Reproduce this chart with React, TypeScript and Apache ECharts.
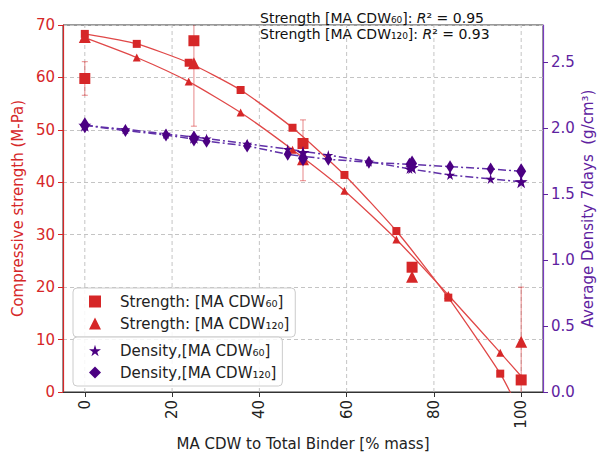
import React, { useEffect, useRef } from "react";
import * as echarts from "echarts";

// ---------- data ----------
const xTickValues = [0, 20, 40, 60, 80, 100];
const rightTickValues = [0, 0.5, 1.0, 1.5, 2.0, 2.5];

// fitted strength curves (markers every ~11.9 %)
const fitX = [0, 11.9, 23.8, 35.7, 47.6, 59.5, 71.4, 83.3, 95.2, 100];
const fit60 = [68.3, 66.4, 62.8, 57.6, 50.4, 41.4, 30.7, 18.0, 3.5, -4.2];
const fit120 = [67.6, 63.8, 59.2, 53.3, 46.2, 38.4, 29.1, 18.5, 7.5, 3.0];

// measured strength
const expX = [0, 25, 50, 75, 100];
const exp60 = [59.8, 67.0, 47.4, 23.8, 2.3];
const exp120 = [67.7, 62.7, 44.4, 22.0, 9.6];

// error bars: x, low, high
const errX = [0, 25, 50, 100];
const errLow = [56.6, 50.7, 40.3, -0.8];
const errHigh = [63.0, 83.3, 51.9, 20.0];

// fitted density curves (markers every ~9.3 %)
const densX = [0, 9.3, 18.6, 27.9, 37.2, 46.5, 55.8, 65.1, 74.4, 83.7, 93, 100];
const dens60 = [2.02, 1.99, 1.955, 1.92, 1.88, 1.84, 1.795, 1.745, 1.69, 1.644, 1.614, 1.593];
const dens120 = [2.02, 1.98, 1.947, 1.9, 1.864, 1.8, 1.763, 1.74, 1.725, 1.707, 1.689, 1.672];

// measured density
const expDens60 = [2.02, 1.93, 1.815, 1.7, 1.593];
const expDens120 = [2.02, 1.92, 1.77, 1.73, 1.672];

const names = {
  s60: "Strength: [MA CDW₆₀]",
  s120: "Strength: [MA CDW₁₂₀]",
  d60: "Density,[MA CDW₆₀]",
  d120: "Density,[MA CDW₁₂₀]",
};

const RED = "#d62728";
const RED_LINE = "#e04848";
const PURPLE = "#4b0082";
const PURPLE_AXIS = "#5e22a0";
const FONT = "DejaVu Sans";
const STAR =
  "path://M50,0 L61,35 L98,35 L68,57 L79,91 L50,70 L21,91 L32,57 L2,35 L39,35 Z";

function zip(xs: number[], ys: number[]) {
  return xs.map((x, i) => [x, ys[i]]);
}

export default function App() {
  const ref = useRef<HTMLDivElement>(null);

  useEffect(() => {
    if (!ref.current) return;
    const chart = echarts.init(ref.current, null, { renderer: "svg" });

    const fitData = (ys: number[]) =>
      fitX.map((x, i) =>
        i === fitX.length - 1 ? { value: [x, ys[i]], symbol: "none" } : { value: [x, ys[i]] }
      );

    const legendCommon = {
      orient: "vertical",
      left: 73,
      padding: [6, 6, 6, 16],
      itemGap: 7,
      itemWidth: 12,
      itemHeight: 12,
      backgroundColor: "rgba(255,255,255,0.85)",
      borderColor: "#cccccc",
      borderWidth: 1,
      borderRadius: 4,
      textStyle: { fontSize: 15, color: "#222", fontFamily: FONT, padding: [0, 0, 0, 14] },
    };

    const option: any = {
      animation: false,
      backgroundColor: "#fff",
      textStyle: { fontFamily: FONT },
      grid: {
        left: 63,
        right: 55,
        top: 25,
        bottom: 60,
        outerBoundsMode: "none",
        containLabel: false,
        show: true,
        borderColor: "#333",
        borderWidth: 1,
        backgroundColor: "transparent",
      },
      xAxis: {
        type: "value",
        min: -5,
        max: 105,
        name: "MA CDW to Total Binder [% mass]",
        nameLocation: "middle",
        nameGap: 38,
        nameTextStyle: { fontSize: 15, color: "#222", fontFamily: FONT },
        axisLine: { show: true, onZero: false, lineStyle: { color: "#333", width: 1 } },
        axisTick: { show: true, length: 5, customValues: xTickValues, lineStyle: { color: "#333" } },
        axisLabel: {
          customValues: xTickValues,
          rotate: 90,
          fontSize: 15,
          color: "#222",
          margin: 8,
          fontFamily: FONT,
        },
        splitLine: { show: false },
      },
      yAxis: [
        {
          type: "value",
          min: 0,
          max: 70,
          interval: 10,
          position: "left",
          name: "Compressive strength (M-Pa)",
          nameLocation: "middle",
          nameGap: 38,
          nameRotate: 90,
          nameTextStyle: { fontSize: 15, color: RED, fontFamily: FONT },
          axisLine: { show: true, onZero: false, lineStyle: { color: RED, width: 1.2 } },
          axisTick: { show: true, length: 5, lineStyle: { color: RED } },
          axisLabel: { fontSize: 15, color: RED, margin: 8, fontFamily: FONT },
          splitLine: { show: true, lineStyle: { color: "#c4c4c4", type: [4, 3], width: 1 } },
        },
        {
          type: "value",
          min: 0,
          max: 2.78,
          position: "right",
          name: "Average Density 7days  (g/cm³)",
          nameLocation: "middle",
          nameGap: 37,
          nameMoveOverlap: false,
          nameRotate: 90,
          nameTextStyle: { fontSize: 15, color: PURPLE_AXIS, fontFamily: FONT },
          axisLine: { show: true, onZero: false, lineStyle: { color: "#7a3cc0", width: 1.2 } },
          axisTick: { show: true, length: 5, customValues: rightTickValues, lineStyle: { color: PURPLE_AXIS } },
          axisLabel: {
            customValues: rightTickValues,
            fontSize: 15,
            color: PURPLE_AXIS,
            margin: 8,
            fontFamily: FONT,
            formatter: (v: number) => v.toFixed(1),
          },
          splitLine: { show: false },
        },
      ],
      legend: [
        {
          ...legendCommon,
          top: 288,
          data: [
            { name: names.s60, icon: "rect" },
            { name: names.s120, icon: "triangle" },
          ],
        },
        {
          ...legendCommon,
          top: 337,
          data: [
            { name: names.d60, icon: STAR },
            { name: names.d120, icon: "diamond" },
          ],
        },
      ],
      graphic: [
        {
          type: "text",
          left: 260,
          top: 10,
          z: 100,
          style: {
            text:
              "{n|Strength [MA CDW₆₀]: }{i|R}{n|² = 0.95}\n{n|Strength [MA CDW₁₂₀]: }{i|R}{n|² = 0.93}",
            fill: "#111",
            font: `14px "${FONT}"`,
            lineHeight: 16,
            rich: {
              n: { fontSize: 14, fontFamily: FONT, fill: "#111", lineHeight: 16 },
              i: { fontSize: 14, fontFamily: FONT, fontStyle: "italic", fill: "#111", lineHeight: 16 },
            },
          },
        },
      ],
      series: [
        {
          name: "xgrid",
          type: "custom",
          xAxisIndex: 0,
          yAxisIndex: 0,
          clip: true,
          z: 0,
          silent: true,
          data: xTickValues.map((v) => [v, 0]),
          renderItem: (params: any, api: any) => {
            const x = api.value(0);
            const p1 = api.coord([x, 0]);
            const p2 = api.coord([x, 70]);
            return {
              type: "line",
              shape: { x1: p1[0], y1: p1[1], x2: p2[0], y2: p2[1] },
              style: { stroke: "#c4c4c4", lineWidth: 1, lineDash: [4, 3] },
            };
          },
        },
        {
          name: "errbars",
          type: "custom",
          xAxisIndex: 0,
          yAxisIndex: 0,
          clip: true,
          z: 1,
          silent: true,
          data: errX.map((x, i) => [x, errLow[i], errHigh[i]]),
          renderItem: (params: any, api: any) => {
            const x = api.value(0);
            const p1 = api.coord([x, api.value(1)]);
            const p2 = api.coord([x, api.value(2)]);
            const st = { stroke: "rgba(214,39,40,0.55)", lineWidth: 1 };
            return {
              type: "group",
              children: [
                { type: "line", shape: { x1: p1[0], y1: p1[1], x2: p2[0], y2: p2[1] }, style: st },
                { type: "line", shape: { x1: p1[0] - 3, y1: p1[1], x2: p1[0] + 3, y2: p1[1] }, style: st },
                { type: "line", shape: { x1: p2[0] - 3, y1: p2[1], x2: p2[0] + 3, y2: p2[1] }, style: st },
              ],
            };
          },
        },
        {
          name: "fit60",
          type: "line",
          yAxisIndex: 0,
          data: fitData(fit60),
          smooth: 0.2,
          symbol: "rect",
          symbolSize: 8,
          showAllSymbol: true,
          lineStyle: { color: RED_LINE, width: 1.3 },
          itemStyle: { color: RED, opacity: 1 },
          z: 3,
        },
        {
          name: "fit120",
          type: "line",
          yAxisIndex: 0,
          data: fitData(fit120),
          smooth: 0.2,
          symbol: "triangle",
          symbolSize: 8,
          showAllSymbol: true,
          lineStyle: { color: RED_LINE, width: 1.3 },
          itemStyle: { color: RED, opacity: 1 },
          z: 3,
        },
        {
          name: names.s60,
          type: "scatter",
          yAxisIndex: 0,
          data: zip(expX, exp60),
          symbol: "rect",
          symbolSize: 11,
          itemStyle: { color: RED, opacity: 1 },
          z: 4,
        },
        {
          name: names.s120,
          type: "scatter",
          yAxisIndex: 0,
          data: zip(expX, exp120),
          symbol: "triangle",
          symbolSize: 12,
          itemStyle: { color: RED, opacity: 1 },
          z: 4,
        },
        {
          name: "dfit60",
          type: "line",
          yAxisIndex: 1,
          data: zip(densX, dens60),
          symbol: STAR,
          symbolSize: 10,
          showAllSymbol: true,
          lineStyle: { color: "#6030a8", width: 1.5, type: [8, 3, 2, 3] },
          itemStyle: { color: PURPLE, opacity: 1 },
          z: 3,
        },
        {
          name: "dfit120",
          type: "line",
          yAxisIndex: 1,
          data: zip(densX, dens120),
          symbol: "diamond",
          symbolSize: [8, 13],
          showAllSymbol: true,
          lineStyle: { color: "#6030a8", width: 1.5, type: [8, 3, 2, 3] },
          itemStyle: { color: PURPLE, opacity: 1 },
          z: 3,
        },
        {
          name: names.d60,
          type: "scatter",
          yAxisIndex: 1,
          data: zip(expX, expDens60),
          symbol: STAR,
          symbolSize: 13,
          itemStyle: { color: PURPLE, opacity: 1 },
          z: 4,
        },
        {
          name: names.d120,
          type: "scatter",
          yAxisIndex: 1,
          data: zip(expX, expDens120),
          symbol: "diamond",
          symbolSize: [10, 16],
          itemStyle: { color: PURPLE, opacity: 1 },
          z: 4,
        },
      ],
    };

    chart.setOption(option);
    return () => chart.dispose();
  }, []);

  return (
    <div
      ref={ref}
      style={{ position: "absolute", left: 0, top: 0, width: 598, height: 452, background: "#fff" }}
    />
  );
}
